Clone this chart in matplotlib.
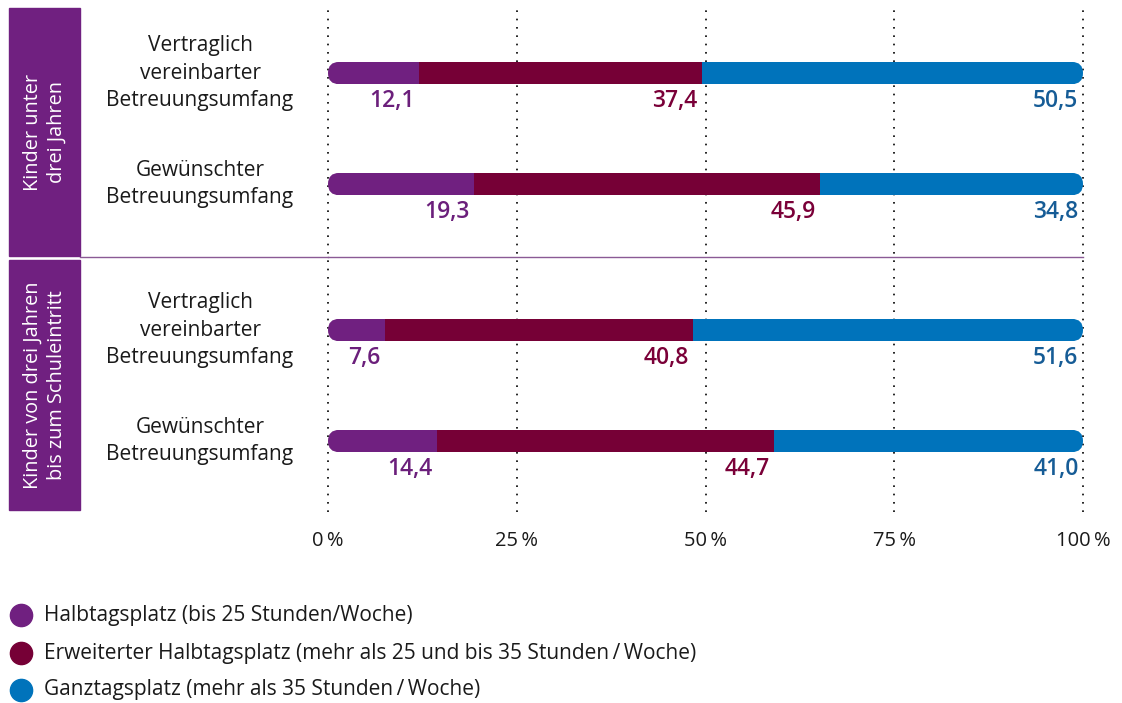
import numpy as np
import matplotlib.pyplot as plt
from matplotlib.patches import FancyBboxPatch, Rectangle
from matplotlib.lines import Line2D
import matplotlib.transforms as mtransforms

plt.rcParams['font.family'] = ['Open Sans', 'DejaVu Sans']

row_labels = ['Vertraglich\nvereinbarter\nBetreuungsumfang', 'Gewünschter\nBetreuungsumfang',
              'Vertraglich\nvereinbarter\nBetreuungsumfang', 'Gewünschter\nBetreuungsumfang']
group_labels = ['Kinder unter\ndrei Jahren', 'Kinder von drei Jahren\nbis zum Schuleintritt']
series_names = ['Halbtagsplatz (bis 25 Stunden/Woche)',
                'Erweiterter Halbtagsplatz (mehr als 25 und bis 35 Stunden\u2009/\u2009Woche)',
                'Ganztagsplatz (mehr als 35 Stunden\u2009/\u2009Woche)']
halbtag = [12.1, 19.3, 7.6, 14.4]
erweitert = [37.4, 45.9, 40.8, 44.7]
ganztag = [50.5, 34.8, 51.6, 41.0]
ticks = [0, 25, 50, 75, 100]

bar_colors = ['#702080', '#760036', '#0073BB']
text_colors = ['#6B1F7B', '#7A0038', '#165C96']

W, H = 1122, 703
fig = plt.figure(figsize=(W / 100, H / 100), dpi=100)

def px(x0, y0, x1, y1):
    # pixel box (top-left origin) -> figure fraction rect
    return [x0 / W, 1 - y1 / H, (x1 - x0) / W, (y1 - y0) / H]

ax = fig.add_axes(px(328, 8, 1083, 512))
ypos = np.array([0, 1, 2.315, 3.315])
ax.set_xlim(0, 100)
ax.set_ylim(-0.586 + 504 / 111, -0.586)
for s in ax.spines.values():
    s.set_visible(False)
ax.set_xticks(ticks)
ax.set_xticklabels([f'{t}\u2009%' for t in ticks], fontsize=14.5, color='#1a1a1a')
ax.tick_params(axis='x', length=0, pad=14)
ax.set_yticks([])
ax.grid(axis='x', color='black', linestyle=(0, (1, 4)), linewidth=1.2)
for gl in ax.get_xgridlines():
    gl.set_clip_on(False)
ax.set_axisbelow(True)

bar_h = 0.2
r_x = 11 / 7.55
aspect = (bar_h / 2) / r_x
data = np.array([halbtag, erweitert, ganztag])
for i, y in enumerate(ypos):
    clip = FancyBboxPatch((0, y - bar_h / 2), 100, bar_h,
                          boxstyle=f'round,pad=0,rounding_size={r_x}',
                          mutation_aspect=aspect, transform=ax.transData,
                          facecolor='none', edgecolor='none')
    ax.add_patch(clip)
    left = 0
    for k in range(3):
        v = data[k, i]
        b = ax.barh(y, v, left=left, height=bar_h, color=bar_colors[k], zorder=3)
        b[0].set_clip_path(clip)
        ax.text(left + v - 0.6, y + 0.255, f'{v:.1f}'.replace('.', ','),
                ha='right', va='center', fontsize=16.5, fontweight='semibold',
                color=text_colors[k])
        left += v

trans = mtransforms.blended_transform_factory(fig.transFigure, ax.transData)
for i, y in enumerate(ypos):
    ax.text(200 / W, y, row_labels[i], transform=trans, ha='center', va='center',
            fontsize=15, color='#1a1a1a', linespacing=1.4)

# separator between groups
ax.plot([0, 100], [1.658, 1.658], color='#8a5a95', linewidth=1, clip_on=False, zorder=2)
fig.add_artist(Line2D([80 / W, 328 / W], [1 - 257 / H, 1 - 257 / H],
                      color='#8a5a95', linewidth=1))

# group boxes
for (y0, y1), g in zip([(8, 256), (260, 510)], group_labels):
    fig.add_artist(Rectangle((9 / W, 1 - y1 / H), 71 / W, (y1 - y0) / H,
                             transform=fig.transFigure, color='#702080'))
    fig.text(45 / W, 1 - (y0 + y1) / 2 / H, g, rotation=90, ha='center', va='center',
             color='white', fontsize=14.3, linespacing=1.25)

# legend
for k, (name, c) in enumerate(zip(series_names, bar_colors)):
    yk = 1 - [615, 653, 690][k] / H
    fig.add_artist(Line2D([21 / W], [yk], marker='o', linestyle='', markersize=16,
                          markerfacecolor=c, markeredgecolor=c))
    fig.text(44 / W, yk, name, ha='left', va='center', fontsize=15, color='#1a1a1a')

fig.savefig('out.png', dpi=100)
